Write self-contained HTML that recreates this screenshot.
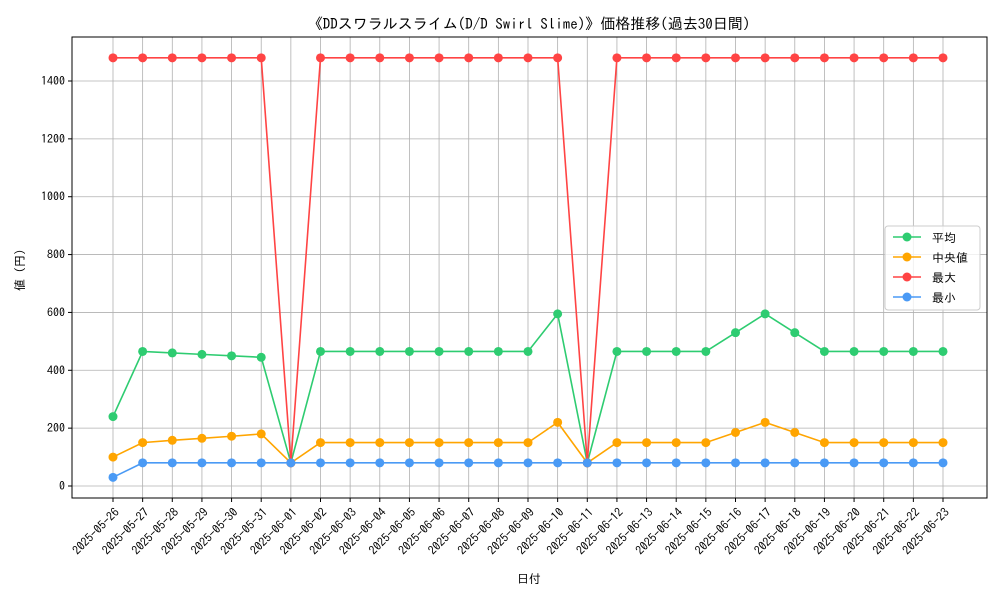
<!DOCTYPE html>
<html><head><meta charset="utf-8"><style>
body{margin:0;background:#fff;}
svg text{font-family:"IPAGothic","Noto Sans CJK JP",monospace;}
</style></head><body>
<svg id="chart" width="1000" height="600" xmlns="http://www.w3.org/2000/svg">
<text x="529" y="29" font-size="15" text-anchor="middle">《DDスワラルスライム(D/D Swirl Slime)》価格推移(過去30日間)</text>
<g id="grid"></g>
<g id="axes"></g>
<g id="series"></g>
<text x="529" y="583" font-size="12" text-anchor="middle">日付</text>
<text x="24" y="270" font-size="12" text-anchor="middle" transform="rotate(-90 24 270)">値 (円)</text>
<g id="legend"></g>
</svg>
<script>
const dates=["2025-05-26","2025-05-27","2025-05-28","2025-05-29","2025-05-30","2025-05-31","2025-06-01","2025-06-02","2025-06-03","2025-06-04","2025-06-05","2025-06-06","2025-06-07","2025-06-08","2025-06-09","2025-06-10","2025-06-11","2025-06-12","2025-06-13","2025-06-14","2025-06-15","2025-06-16","2025-06-17","2025-06-18","2025-06-19","2025-06-20","2025-06-21","2025-06-22","2025-06-23"];
const avgVals=[240,465,460,455,450,445,80,465,465,465,465,465,465,465,465,595,80,465,465,465,465,530,595,530,465,465,465,465,465];
const medVals=[100,150,158,165,172,180,80,150,150,150,150,150,150,150,150,220,80,150,150,150,150,185,220,185,150,150,150,150,150];
const maxVals=[1480,1480,1480,1480,1480,1480,80,1480,1480,1480,1480,1480,1480,1480,1480,1480,80,1480,1480,1480,1480,1480,1480,1480,1480,1480,1480,1480,1480];
const minVals=[30,80,80,80,80,80,80,80,80,80,80,80,80,80,80,80,80,80,80,80,80,80,80,80,80,80,80,80,80];
const yTicks=[0,200,400,600,800,1000,1200,1400];
const seriesNames=["平均","中央値","最大","最小"];
const NS="http://www.w3.org/2000/svg";
const L=72,R=987,T=37,B=498;
const x=i=>113+i*(943-113)/(dates.length-1);
const y=v=>486-v*(486-81)/1400;
function mk(tag,attrs,parent){const e=document.createElementNS(NS,tag);for(const k in attrs)e.setAttribute(k,attrs[k]);parent.appendChild(e);return e;}
const grid=document.getElementById('grid'),axes=document.getElementById('axes'),ser=document.getElementById('series'),leg=document.getElementById('legend');
dates.forEach((d,i)=>{
 const g=mk('line',{x1:x(i),x2:x(i),y1:T,y2:B,stroke:'#b0b0b0','stroke-width':0.8},grid);
 
 mk('line',{x1:x(i),x2:x(i),y1:B,y2:B+4,stroke:'#000'},axes);
 const ax=x(i)+7, ay=B+15;
 const t=mk('text',{x:ax,y:ay,'font-size':12,'text-anchor':'end',transform:`rotate(-45 ${ax} ${ay})`},axes);
 t.textContent=d;
});
yTicks.forEach(v=>{
 const g=mk('line',{x1:L,x2:R,y1:y(v),y2:y(v),stroke:'#b0b0b0','stroke-width':0.8},grid);
 
 mk('line',{x1:L-4,x2:L,y1:y(v),y2:y(v),stroke:'#000'},axes);
 const t=mk('text',{x:L-7,y:y(v)+4,'font-size':12,'text-anchor':'end'},axes);
 t.textContent=v;
});
const fr=mk('rect',{x:L,y:T,width:R-L,height:B-T,fill:'none',stroke:'#000','stroke-width':1},axes);

const all=[[avgVals,'#2ecc71','avg'],[medVals,'#ffa500','median'],[maxVals,'#ff4444','max'],[minVals,'#4a9af5','min']];
all.forEach(([vals,c,n])=>{
 const p=mk('polyline',{points:vals.map((v,i)=>x(i)+','+y(v)).join(' '),fill:'none',stroke:c,'stroke-width':1.6},ser);
 
 vals.forEach((v,i)=>{const m=mk('circle',{cx:x(i),cy:y(v),r:4.5,fill:c},ser);
  });
});
const lb=mk('rect',{x:885,y:226,width:95,height:84,fill:'#fff','fill-opacity':0.8,stroke:'#ccc',rx:3},leg);

all.forEach(([v,c,n],i)=>{
 const ly=237+i*20;
 const g=mk('g',{},leg);
 mk('line',{x1:893,x2:921,y1:ly,y2:ly,stroke:c,'stroke-width':1.6},g);
 mk('circle',{cx:907,cy:ly,r:4.5,fill:c},g);
 const t=mk('text',{x:932,y:ly+5,'font-size':12},g);t.textContent=seriesNames[i];
});
</script>
</body></html>
